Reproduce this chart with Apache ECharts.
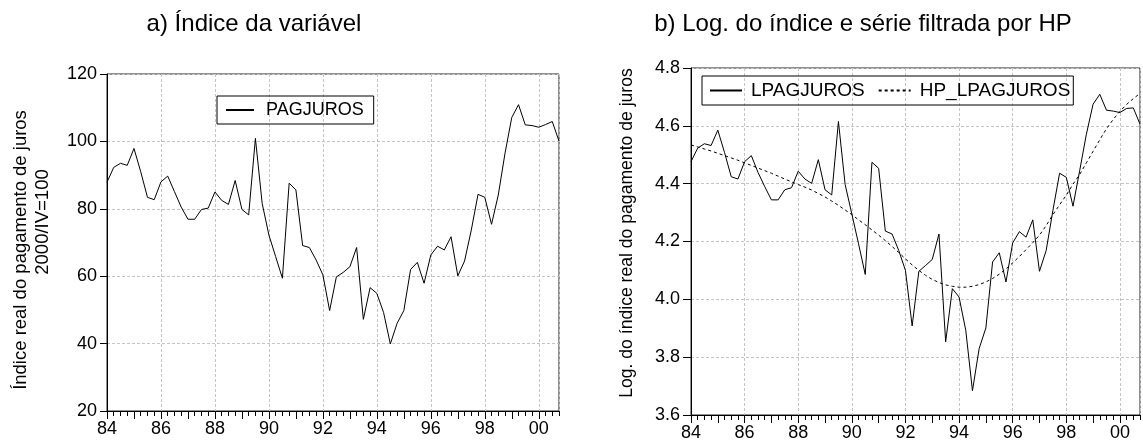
<!DOCTYPE html>
<html>
<head>
<meta charset="utf-8">
<script src="https://cdn.jsdelivr.net/npm/echarts@6/dist/echarts.min.js"></script>
<style>
  html, body { margin: 0; padding: 0; background: #fff; }
  #chart { width: 1143px; height: 442px; }
</style>
</head>
<body>
<div id="chart"></div>
<script>
// Quarterly periods 1984Q1 .. 2000Q4
const periods = [];
for (let y = 1984; y <= 2000; y++) {
  for (let q = 1; q <= 4; q++) periods.push(String(y % 100).padStart(2, '0') + 'Q' + q);
}

// Labels shown every two years on the date axis
const yearTickLabels = ['84', '86', '88', '90', '92', '94', '96', '98', '00'];

// Real interest payments index (2000/IV = 100)
const pagjuros = [
  87.9, 92.3, 93.5, 92.9, 97.9, 91.0, 83.4, 82.7, 88.0, 89.7,
  85.1, 80.5, 76.9, 76.9, 79.8, 80.2, 85.0, 82.5, 81.3, 88.4,
  79.8, 78.2, 100.9, 81.6, 72.2, 65.8, 59.4, 87.6, 85.6, 69.1,
  68.5, 64.8, 60.4, 49.8, 59.8, 61.1, 62.8, 68.5, 47.2, 56.6,
  54.9, 49.2, 39.9, 46.0, 49.8, 62.0, 64.1, 57.9, 66.3, 68.9,
  67.8, 71.7, 60.1, 64.5, 73.7, 84.3, 83.4, 75.4, 84.1, 96.5,
  107.1, 110.9, 104.9, 104.7, 104.2, 105.0, 105.9, 100.1
];

// Log of the index
const lpagjuros = [
  4.476, 4.523, 4.538, 4.532, 4.585, 4.508, 4.424, 4.416, 4.476, 4.497,
  4.439, 4.390, 4.344, 4.344, 4.379, 4.386, 4.443, 4.416, 4.401, 4.483,
  4.379, 4.361, 4.615, 4.397, 4.295, 4.192, 4.086, 4.474, 4.453, 4.236,
  4.226, 4.169, 4.100, 3.908, 4.097, 4.117, 4.138, 4.226, 3.853, 4.037,
  4.008, 3.893, 3.684, 3.830, 3.901, 4.129, 4.161, 4.060, 4.195, 4.234,
  4.215, 4.275, 4.097, 4.169, 4.307, 4.436, 4.422, 4.322, 4.445, 4.571,
  4.675, 4.709, 4.654, 4.651, 4.646, 4.660, 4.662, 4.606
];

// Hodrick-Prescott trend of the log series
const hpLpagjuros = [
  4.534, 4.527, 4.520, 4.513, 4.505, 4.497, 4.489, 4.481, 4.472, 4.463,
  4.454, 4.445, 4.436, 4.426, 4.416, 4.406, 4.397, 4.388, 4.378, 4.366,
  4.354, 4.340, 4.325, 4.309, 4.293, 4.275, 4.258, 4.240, 4.222, 4.203,
  4.183, 4.162, 4.140, 4.119, 4.100, 4.083, 4.069, 4.058, 4.050, 4.045,
  4.042, 4.042, 4.045, 4.051, 4.060, 4.072, 4.087, 4.105, 4.126, 4.148,
  4.172, 4.196, 4.222, 4.255, 4.293, 4.327, 4.360, 4.398, 4.432, 4.472,
  4.512, 4.552, 4.590, 4.622, 4.650, 4.674, 4.694, 4.712
];

const FONT = 'Liberation Sans, Arial, Helvetica, sans-serif';
const INK = '#000';
const GRID_LINE = { color: '#c4c4c4', type: [3, 2], width: 1 };

function dateAxis(gridIndex) {
  return {
    gridIndex: gridIndex,
    type: 'category',
    position: 'bottom',
    data: periods,
    boundaryGap: false,
    axisLine: { onZero: false, lineStyle: { color: INK, width: 1 } },
    axisTick: { show: true, interval: 0, length: 5, lineStyle: { color: INK } },
    axisLabel: {
      interval: 0,
      fontFamily: FONT, fontSize: 18, color: INK, margin: 9,
      formatter: function (v, i) { return i % 8 === 0 ? yearTickLabels[i / 8] : ''; }
    },
    splitLine: { show: true, interval: 7, lineStyle: GRID_LINE }
  };
}

// Longer ticks at each new year, overlaid on the quarter ticks
function yearTickAxis(gridIndex) {
  return {
    gridIndex: gridIndex,
    type: 'category',
    position: 'bottom',
    offset: 0,
    data: periods,
    boundaryGap: false,
    axisLine: { show: false, onZero: false },
    axisTick: { show: true, interval: 3, length: 8, lineStyle: { color: INK } },
    axisLabel: { show: false },
    splitLine: { show: false }
  };
}

const chart = echarts.init(document.getElementById('chart'), null, { renderer: 'canvas' });

chart.setOption({
  backgroundColor: '#fff',
  animation: false,
  textStyle: { fontFamily: FONT },
  graphic: [
    { type: 'text', x: 254, y: 24, style: { text: 'a) Índice da variável', font: '24px ' + FONT, fill: INK, textAlign: 'center', textVerticalAlign: 'middle' } },
    { type: 'text', x: 863, y: 24, style: { text: 'b) Log. do índice e série filtrada por HP', font: '24px ' + FONT, fill: INK, textAlign: 'center', textVerticalAlign: 'middle' } },
    { type: 'text', x: 21, y: 250, rotation: Math.PI / 2, style: { text: 'Índice real do pagamento de juros', font: '18.5px ' + FONT, fill: INK, textAlign: 'center', textVerticalAlign: 'middle' } },
    { type: 'text', x: 43, y: 222, rotation: Math.PI / 2, style: { text: '2000/IV=100', font: '18.5px ' + FONT, fill: INK, textAlign: 'center', textVerticalAlign: 'middle' } },
    { type: 'text', x: 627, y: 233, rotation: Math.PI / 2, style: { text: 'Log. do índice real do pagamento de juros', font: '17.6px ' + FONT, fill: INK, textAlign: 'center', textVerticalAlign: 'middle' } }
  ],
  legend: [
    {
      data: ['PAGJUROS'],
      left: 217, top: 96,
      orient: 'horizontal',
      borderColor: INK, borderWidth: 1,
      padding: [5, 10, 5, 8],
      itemWidth: 28, itemHeight: 14,
      itemStyle: { opacity: 0 },
      textStyle: { fontFamily: FONT, fontSize: 18, color: INK, padding: [0, 0, 0, 7] },
      selectedMode: false
    },
    {
      data: ['LPAGJUROS', 'HP_LPAGJUROS'],
      left: 702, top: 76,
      orient: 'horizontal',
      borderColor: INK, borderWidth: 1,
      padding: [5, 3, 5, 7],
      itemWidth: 32, itemHeight: 14, itemGap: 13,
      itemStyle: { opacity: 0 },
      textStyle: { fontFamily: FONT, fontSize: 19, color: INK, padding: [0, 0, 0, 4] },
      selectedMode: false
    }
  ],
  grid: [
    { left: 107, top: 74, width: 452, height: 337, show: true, borderColor: '#222', borderWidth: 1, backgroundColor: 'transparent' },
    { left: 691, top: 68, width: 462, height: 348, show: true, borderColor: '#222', borderWidth: 1, backgroundColor: 'transparent' }
  ],
  xAxis: [dateAxis(0), yearTickAxis(0), dateAxis(1), yearTickAxis(1)],
  yAxis: [
    {
      gridIndex: 0, type: 'value', min: 20, max: 120, interval: 20,
      axisLine: { show: true, lineStyle: { color: INK } },
      axisTick: { show: true, length: 7, lineStyle: { color: INK } },
      axisLabel: { fontFamily: FONT, fontSize: 18, color: INK, margin: 10 },
      splitLine: { show: true, lineStyle: GRID_LINE }
    },
    {
      gridIndex: 1, type: 'value', min: 3.6, max: 4.8, interval: 0.2,
      axisLine: { show: true, lineStyle: { color: INK } },
      axisTick: { show: true, length: 8, lineStyle: { color: INK } },
      axisLabel: { fontFamily: FONT, fontSize: 18, color: INK, margin: 11, formatter: function (v) { return v.toFixed(1); } },
      splitLine: { show: true, lineStyle: GRID_LINE }
    }
  ],
  series: [
    {
      name: 'PAGJUROS', type: 'line', xAxisIndex: 0, yAxisIndex: 0,
      data: pagjuros, symbol: 'none', smooth: false,
      lineStyle: { color: INK, width: 1 }, itemStyle: { color: INK }
    },
    {
      name: 'LPAGJUROS', type: 'line', xAxisIndex: 2, yAxisIndex: 1,
      data: lpagjuros, symbol: 'none', smooth: false,
      lineStyle: { color: INK, width: 1 }, itemStyle: { color: INK }
    },
    {
      name: 'HP_LPAGJUROS', type: 'line', xAxisIndex: 2, yAxisIndex: 1,
      data: hpLpagjuros, symbol: 'none', smooth: false,
      lineStyle: { color: INK, width: 1, type: [3, 3] }, itemStyle: { color: INK }
    }
  ]
});
</script>
</body>
</html>
